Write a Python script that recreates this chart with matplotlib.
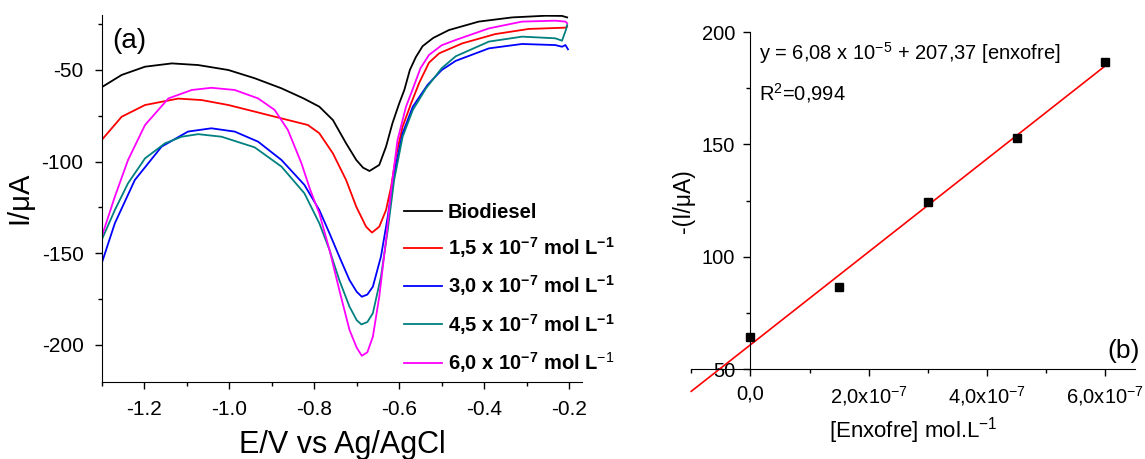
import matplotlib
matplotlib.use('Agg')
import matplotlib.pyplot as plt
import numpy as np
from matplotlib.ticker import MultipleLocator, FixedLocator, FixedFormatter

plt.rcParams['font.family'] = ['Liberation Sans', 'DejaVu Sans']
plt.rcParams['mathtext.fontset'] = 'custom'
plt.rcParams['mathtext.rm'] = 'Liberation Sans'
plt.rcParams['mathtext.it'] = 'Liberation Sans:italic'
plt.rcParams['mathtext.bf'] = 'Liberation Sans:bold'
plt.rcParams['axes.unicode_minus'] = False

# (a) voltammograms, E (V) vs I (uA)
e_bio = [-1.3, -1.253, -1.198, -1.135, -1.073, -1.002, -0.94, -0.877, -0.825, -0.788, -0.756,
         -0.725, -0.701, -0.685, -0.670, -0.647, -0.631, -0.616, -0.600, -0.588, -0.575,
         -0.561, -0.545, -0.520, -0.483, -0.413, -0.334, -0.256, -0.217, -0.205]
i_bio = [-59.4, -52.7, -48.2, -46.4, -47.3, -50.0, -54.5, -60.0, -65.5, -70.0, -77.3,
         -90.0, -99.1, -103.3, -105.1, -101.8, -91.8, -79.1, -68.2, -60.9, -50.0,
         -43.0, -37.0, -32.5, -28.2, -23.6, -21.3, -20.4, -20.5, -21.3]

e_15 = [-1.3, -1.253, -1.198, -1.12, -1.065, -1.002, -0.94, -0.877, -0.815, -0.788, -0.756,
        -0.725, -0.701, -0.678, -0.664, -0.647, -0.631, -0.619, -0.608, -0.592, -0.572,
        -0.553, -0.530, -0.506, -0.452, -0.374, -0.295, -0.209, -0.205]
i_15 = [-88.2, -75.5, -69.1, -65.6, -66.4, -69.1, -72.7, -76.4, -80.0, -84.5, -95.5,
        -110.0, -124.6, -135.5, -138.7, -135.5, -126.4, -113.6, -97.3, -80.9, -68.2,
        -57.0, -46.0, -40.9, -35.5, -30.4, -27.6, -26.9, -26.4]

e_30 = [-1.3, -1.269, -1.222, -1.159, -1.097, -1.042, -0.987, -0.932, -0.877, -0.823, -0.788,
        -0.764, -0.741, -0.717, -0.700, -0.688, -0.675, -0.662, -0.643, -0.627, -0.612,
        -0.592, -0.568, -0.533, -0.500, -0.467, -0.389, -0.311, -0.233, -0.217, -0.209, -0.203]
i_30 = [-155.5, -133.6, -110.0, -91.8, -83.6, -81.8, -83.6, -89.1, -99.1, -112.7, -126.4,
        -139.1, -151.8, -164.6, -171.0, -173.7, -172.5, -168.2, -151.8, -130.0, -106.4,
        -84.5, -70.0, -58.0, -50.0, -45.0, -38.2, -35.8, -36.4, -37.3, -36.4, -38.7]

e_45 = [-1.3, -1.269, -1.238, -1.198, -1.151, -1.112, -1.073, -1.018, -0.94, -0.877, -0.823,
        -0.788, -0.764, -0.741, -0.717, -0.700, -0.689, -0.675, -0.662, -0.643, -0.627,
        -0.612, -0.592, -0.568, -0.537, -0.500, -0.467, -0.389, -0.311, -0.233, -0.217,
        -0.208, -0.205]
i_45 = [-142.7, -126.4, -111.8, -98.2, -90.0, -86.4, -85.0, -86.4, -92.2, -102.7, -117.3,
        -133.6, -148.2, -164.6, -179.1, -186.5, -188.8, -187.5, -182.7, -162.8, -137.3,
        -110.0, -86.4, -71.8, -60.0, -49.0, -42.5, -34.5, -31.8, -32.7, -34.0,
        -28.2, -25.5]

e_60 = [-1.3, -1.269, -1.238, -1.198, -1.143, -1.088, -1.042, -0.987, -0.932, -0.893, -0.862,
        -0.830, -0.810, -0.788, -0.764, -0.741, -0.717, -0.700, -0.688, -0.675, -0.662,
        -0.647, -0.631, -0.619, -0.604, -0.584, -0.569, -0.550, -0.530, -0.500, -0.467,
        -0.389, -0.311, -0.233, -0.209, -0.205]
i_60 = [-141.0, -119.1, -99.1, -80.0, -65.5, -60.9, -59.7, -60.9, -65.5, -71.8, -82.7,
        -100.9, -115.0, -128.2, -148.2, -170.0, -191.8, -201.5, -205.9, -204.0, -195.5,
        -173.7, -142.7, -115.5, -88.2, -70.0, -60.9, -49.0, -41.8, -36.5, -33.6,
        -27.3, -23.6, -23.1, -23.6, -24.5]

labels_a = ['Biodiesel',
            r'1,5 x 10$^{\mathbf{-7}}$ mol L$^{\mathbf{-1}}$',
            r'3,0 x 10$^{\mathbf{-7}}$ mol L$^{\mathbf{-1}}$',
            r'4,5 x 10$^{\mathbf{-7}}$ mol L$^{\mathbf{-1}}$',
            r'6,0 x 10$^{\mathbf{-7}}$ mol L$^{-1}$']
colors_a = ['black', '#ff0000', '#0000ff', '#008080', '#ff00ff']

# (b) calibration
conc = [0.0, 1.5e-7, 3.0e-7, 4.5e-7, 6.0e-7]
peak = [64.3, 86.8, 124.4, 152.7, 186.6]
xticks_b = [0.0, 2e-7, 4e-7, 6e-7]
xticklabels_b = ['0,0', r'2,0x10$^{-7}$', r'4,0x10$^{-7}$', r'6,0x10$^{-7}$']

fig = plt.figure(figsize=(11.45, 4.59), dpi=100)

# ---- panel (a)
ax = fig.add_axes([0.0888, 0.1686, 0.4195, 0.7987])
curves = [(e_bio, i_bio), (e_15, i_15), (e_30, i_30), (e_45, i_45), (e_60, i_60)]
for (e, i), c, lab in zip(curves, colors_a, labels_a):
    ax.plot(e, i, color=c, lw=1.3, label=lab)
ax.set_xlim(-1.3, -0.17)
ax.set_ylim(-220, -20)
ax.spines['top'].set_visible(False)
ax.spines['right'].set_visible(False)
ax.xaxis.set_major_locator(FixedLocator([-1.2, -1.0, -0.8, -0.6, -0.4, -0.2]))
ax.xaxis.set_minor_locator(MultipleLocator(0.1))
ax.yaxis.set_major_locator(FixedLocator([-50, -100, -150, -200]))
ax.yaxis.set_minor_locator(MultipleLocator(25))
ax.tick_params(which='major', direction='out', length=5, width=1, labelsize=15, pad=8)
ax.tick_params(which='minor', direction='out', length=3, width=1)
ax.set_xlabel('E/V vs Ag/AgCl', fontsize=22, labelpad=8)
ax.set_ylabel('I/μA', fontsize=21, labelpad=6)
ax.text(0.021, 0.93, '(a)', transform=ax.transAxes, fontsize=20, va='center')
leg = ax.legend(loc='upper left', bbox_to_anchor=(0.63, 0.487), frameon=False,
                prop={'weight': 'bold', 'size': 14.5}, handlelength=1.85,
                handletextpad=0.3, labelspacing=0.66, borderpad=0, borderaxespad=0)

# ---- panel (b)
bx = fig.add_axes([0.6037, 0.1956, 0.3876, 0.7344])
bx.plot(conc, peak, 's', color='black', ms=5.5, zorder=3)
coef = np.polyfit(conc, peak, 1)
xfit = np.array([-1e-7, 6e-7])
bx.plot(xfit, np.polyval(coef, xfit), color='#ff0000', lw=1.2, clip_on=False)
bx.set_xlim(-1e-7, 6.5e-7)
bx.set_ylim(50, 200)
bx.spines['top'].set_visible(False)
bx.spines['right'].set_visible(False)
bx.spines['left'].set_position(('data', 0))
bx.xaxis.set_major_locator(FixedLocator(xticks_b))
bx.xaxis.set_major_formatter(FixedFormatter(xticklabels_b))
bx.xaxis.set_minor_locator(FixedLocator([-1e-7, 1e-7, 3e-7, 5e-7]))
bx.yaxis.set_major_locator(FixedLocator([50, 100, 150, 200]))
bx.yaxis.set_minor_locator(FixedLocator([75, 125, 175]))
bx.tick_params(which='major', direction='out', length=5, width=1, labelsize=14.5, pad=6)
bx.tick_params(which='minor', direction='out', length=3, width=1)
bx.set_xlabel(r'[Enxofre] mol.L$^{-1}$', fontsize=16, labelpad=5)
bx.set_ylabel('-(I/μA)', fontsize=16.5)
bx.yaxis.set_label_coords(0.008, 0.5)
bx.text(0.153, 0.938, r'y = 6,08 x 10$^{-5}$ + 207,37 [enxofre]', transform=bx.transAxes,
        fontsize=14.5, va='center')
bx.text(0.153, 0.82, r'R$^{2}$=0,994', transform=bx.transAxes, fontsize=14.5, va='center')
bx.text(1.011, 0.054, '(b)', transform=bx.transAxes, fontsize=19, ha='right', va='center')

fig.savefig('out.png', dpi=100)
